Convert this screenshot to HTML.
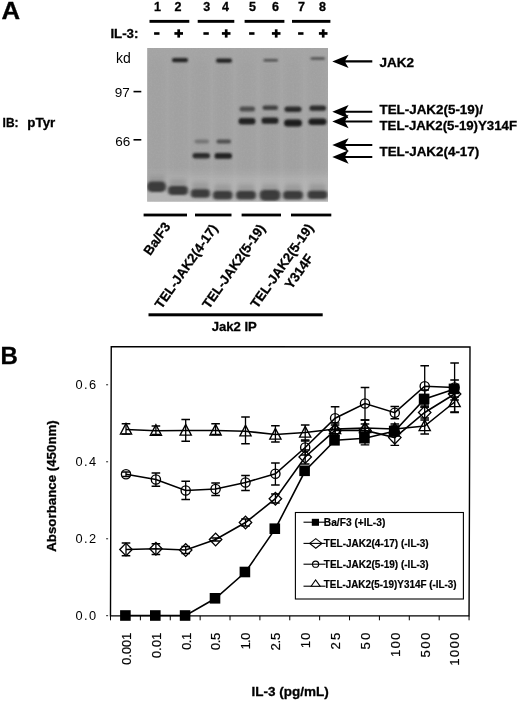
<!DOCTYPE html>
<html lang="en"><head><meta charset="utf-8"><title>Figure</title>
<style>
html,body{margin:0;padding:0;background:#fff;}
body{width:520px;height:701px;overflow:hidden;}
svg{display:block;}
text{font-family:"Liberation Sans",sans-serif;fill:#000;}
.r{stroke:#000;stroke-width:0.2px;}
.b{font-weight:bold;stroke:#000;stroke-width:0.3px;}
</style></head><body>
<svg width="520" height="701" viewBox="0 0 520 701">
<defs>
<filter id="bl" x="-20%" y="-50%" width="140%" height="200%"><feGaussianBlur stdDeviation="1.1 0.9"/></filter>
<filter id="bl2" x="-20%" y="-50%" width="140%" height="200%"><feGaussianBlur stdDeviation="1.5 1.25"/></filter>
<filter id="nz" x="0" y="0" width="100%" height="100%"><feTurbulence type="fractalNoise" baseFrequency="0.55" numOctaves="2" seed="7" result="t"/><feColorMatrix in="t" type="matrix" values="0 0 0 0 0.5  0 0 0 0 0.5  0 0 0 0 0.5  1.6 0 0 0 -0.55"/></filter>
<filter id="bl4" x="-30%" y="-60%" width="160%" height="220%"><feGaussianBlur stdDeviation="2.2 2.6"/></filter>
<filter id="bl3" x="-20%" y="-20%" width="140%" height="140%"><feGaussianBlur stdDeviation="3 6"/></filter>
</defs>
<rect width="520" height="701" fill="#fff"/>

<text class="b" x="1.6" y="18.7" font-size="24.5" textLength="18.6" lengthAdjust="spacingAndGlyphs">A</text>
<text class="b" x="157.5" y="10.8" font-size="12.5" text-anchor="middle">1</text>
<text class="b" x="178" y="10.8" font-size="12.5" text-anchor="middle">2</text>
<text class="b" x="206.8" y="10.8" font-size="12.5" text-anchor="middle">3</text>
<text class="b" x="225.5" y="10.8" font-size="12.5" text-anchor="middle">4</text>
<text class="b" x="252.5" y="10.8" font-size="12.5" text-anchor="middle">5</text>
<text class="b" x="275.5" y="10.8" font-size="12.5" text-anchor="middle">6</text>
<text class="b" x="301.5" y="10.8" font-size="12.5" text-anchor="middle">7</text>
<text class="b" x="322.5" y="10.8" font-size="12.5" text-anchor="middle">8</text>
<rect x="149.5" y="19.9" width="39.80000000000001" height="2.9" fill="#000"/>
<rect x="197.7" y="19.9" width="36.60000000000002" height="2.9" fill="#000"/>
<rect x="244.6" y="19.9" width="39.79999999999998" height="2.9" fill="#000"/>
<rect x="292" y="19.9" width="38.39999999999998" height="2.9" fill="#000"/>
<text class="b" x="110.4" y="38.3" font-size="13" textLength="28" lengthAdjust="spacingAndGlyphs">IL-3:</text>
<rect x="154.1" y="32.2" width="5.4" height="2.6" fill="#000"/>
<rect x="174.4" y="32.1" width="8.6" height="2.7" fill="#000"/><rect x="177.35" y="29.3" width="2.7" height="8.3" fill="#000"/>
<rect x="203.4" y="32.2" width="5.4" height="2.6" fill="#000"/>
<rect x="221.9" y="32.1" width="8.6" height="2.7" fill="#000"/><rect x="224.85" y="29.3" width="2.7" height="8.3" fill="#000"/>
<rect x="249.1" y="32.2" width="5.4" height="2.6" fill="#000"/>
<rect x="271.9" y="32.1" width="8.6" height="2.7" fill="#000"/><rect x="274.85" y="29.3" width="2.7" height="8.3" fill="#000"/>
<rect x="298.1" y="32.2" width="5.4" height="2.6" fill="#000"/>
<rect x="318.9" y="32.1" width="8.6" height="2.7" fill="#000"/><rect x="321.85" y="29.3" width="2.7" height="8.3" fill="#000"/>
<text x="116" y="62.8" font-size="14">kd</text>
<text x="114.8" y="97.2" font-size="13.5">97</text><rect x="133.5" y="90.8" width="7.8" height="1.6" fill="#000"/>
<text x="115.2" y="145.7" font-size="13.5">66</text><rect x="133.5" y="139" width="7.8" height="1.6" fill="#000"/>
<text class="b" x="2.6" y="127.4" font-size="13.3" textLength="16" lengthAdjust="spacingAndGlyphs">IB:</text>
<text class="b" x="27.3" y="127.4" font-size="13.3" textLength="28" lengthAdjust="spacingAndGlyphs">pTyr</text>
<g><clipPath id="gc"><rect x="147.2" y="48" width="180.8" height="153.6"/></clipPath>
<rect x="147.2" y="48" width="180.8" height="153.6" fill="#a5a5a5"/>
<g clip-path="url(#gc)">
<rect x="149.5" y="60" width="14" height="130" fill="#9c9c9c" opacity="0.5" filter="url(#bl3)"/>
<rect x="171.5" y="60" width="14" height="130" fill="#9c9c9c" opacity="0.5" filter="url(#bl3)"/>
<rect x="193.5" y="60" width="14" height="130" fill="#9c9c9c" opacity="0.5" filter="url(#bl3)"/>
<rect x="216" y="60" width="14" height="130" fill="#9c9c9c" opacity="0.5" filter="url(#bl3)"/>
<rect x="239.5" y="60" width="14" height="130" fill="#9c9c9c" opacity="0.5" filter="url(#bl3)"/>
<rect x="263" y="60" width="14" height="130" fill="#9c9c9c" opacity="0.5" filter="url(#bl3)"/>
<rect x="286" y="60" width="14" height="130" fill="#9c9c9c" opacity="0.5" filter="url(#bl3)"/>
<rect x="309.5" y="60" width="14" height="130" fill="#9c9c9c" opacity="0.5" filter="url(#bl3)"/>
<rect x="147.2" y="48" width="180.8" height="153.6" filter="url(#nz)" opacity="0.2"/>
<rect x="172.0" y="58.0" width="16.0" height="4.3" rx="2.1" fill="#222" opacity="1" filter="url(#bl)"/>
<rect x="216.0" y="58.5" width="16.0" height="4.3" rx="2.1" fill="#222" opacity="1" filter="url(#bl)"/>
<rect x="263.5" y="59.0" width="14.5" height="2.6" rx="1.3" fill="#444" opacity="0.9" filter="url(#bl)"/>
<rect x="310.5" y="57.2" width="14.5" height="2.6" rx="1.3" fill="#444" opacity="0.9" filter="url(#bl)"/>
<rect x="194.5" y="139.5" width="14.5" height="4.0" rx="2.0" fill="#666" opacity="0.75" filter="url(#bl)"/>
<rect x="192.5" y="153.0" width="17.5" height="5.5" rx="2.8" fill="#2a2a2a" opacity="1" filter="url(#bl)"/>
<rect x="216.5" y="139.5" width="14.5" height="4.0" rx="2.0" fill="#444" opacity="0.9" filter="url(#bl)"/>
<rect x="214.5" y="153.0" width="17.5" height="5.8" rx="2.9" fill="#222" opacity="1" filter="url(#bl)"/>
<rect x="239.5" y="106.5" width="15.5" height="5.0" rx="2.5" fill="#444" opacity="0.9" filter="url(#bl)"/>
<rect x="238.5" y="118.0" width="17.0" height="6.5" rx="3.2" fill="#222" opacity="1" filter="url(#bl)"/>
<rect x="262.5" y="105.5" width="15.5" height="4.5" rx="2.2" fill="#3a3a3a" opacity="0.95" filter="url(#bl)"/>
<rect x="261.5" y="117.5" width="17.0" height="6.3" rx="3.1" fill="#222" opacity="1" filter="url(#bl)"/>
<rect x="284.5" y="106.5" width="17.0" height="5.5" rx="2.8" fill="#2a2a2a" opacity="1" filter="url(#bl)"/>
<rect x="284.0" y="119.5" width="18.0" height="7.0" rx="3.5" fill="#1c1c1c" opacity="1" filter="url(#bl)"/>
<rect x="309.5" y="105.5" width="16.5" height="5.3" rx="2.6" fill="#2a2a2a" opacity="1" filter="url(#bl)"/>
<rect x="308.5" y="118.5" width="18.0" height="6.5" rx="3.2" fill="#1c1c1c" opacity="1" filter="url(#bl)"/>
<rect x="140" y="176" width="200" height="40" fill="#c4c4c4" opacity="0.55" filter="url(#bl3)"/>
<rect x="148.0" y="175.8" width="17" height="10" fill="#777" opacity="0.45" filter="url(#bl4)"/>
<rect x="146.9" y="181.6" width="19.2" height="10.4" rx="4.7" fill="#303030" opacity="0.92" filter="url(#bl2)"/>
<rect x="169.5" y="179.5" width="17" height="10" fill="#777" opacity="0.45" filter="url(#bl4)"/>
<rect x="168.0" y="185.9" width="20.0" height="9.2" rx="4.1" fill="#303030" opacity="0.92" filter="url(#bl2)"/>
<rect x="191.9" y="182.5" width="17" height="10" fill="#777" opacity="0.45" filter="url(#bl4)"/>
<rect x="190.8" y="189.3" width="19.2" height="8.4" rx="3.8" fill="#303030" opacity="0.92" filter="url(#bl2)"/>
<rect x="214.2" y="184.3" width="17" height="10" fill="#777" opacity="0.45" filter="url(#bl4)"/>
<rect x="212.9" y="191.1" width="19.6" height="8.4" rx="3.8" fill="#303030" opacity="0.92" filter="url(#bl2)"/>
<rect x="237.5" y="184.3" width="17" height="10" fill="#777" opacity="0.45" filter="url(#bl4)"/>
<rect x="236.0" y="191.1" width="20.0" height="8.4" rx="3.8" fill="#303030" opacity="0.92" filter="url(#bl2)"/>
<rect x="261.5" y="184.3" width="17" height="10" fill="#777" opacity="0.45" filter="url(#bl4)"/>
<rect x="259.6" y="189.9" width="20.8" height="10.8" rx="4.9" fill="#303030" opacity="0.92" filter="url(#bl2)"/>
<rect x="284.5" y="184.3" width="17" height="10" fill="#777" opacity="0.45" filter="url(#bl4)"/>
<rect x="283.0" y="191.1" width="20.0" height="8.4" rx="3.8" fill="#303030" opacity="0.92" filter="url(#bl2)"/>
<rect x="309.0" y="183.8" width="17" height="10" fill="#777" opacity="0.45" filter="url(#bl4)"/>
<rect x="307.5" y="190.7" width="20.0" height="8.2" rx="3.7" fill="#303030" opacity="0.92" filter="url(#bl2)"/>
</g></g>
<path d="M332.3,61.4 L348.6,54.699999999999996 L345.3,60.35 L372.3,60.35 L372.3,62.449999999999996 L345.3,62.449999999999996 L348.6,68.1 Z" fill="#000"/>
<path d="M332.3,111.8 L348.6,105.1 L345.3,110.75 L372.3,110.75 L372.3,112.85 L345.3,112.85 L348.6,118.5 Z" fill="#000"/>
<path d="M332.3,121.5 L348.6,114.8 L345.3,120.45 L372.3,120.45 L372.3,122.55 L345.3,122.55 L348.6,128.2 Z" fill="#000"/>
<path d="M332.3,145 L348.6,138.3 L345.3,143.95 L372.3,143.95 L372.3,146.05 L345.3,146.05 L348.6,151.7 Z" fill="#000"/>
<path d="M332.3,157 L348.6,150.3 L345.3,155.95 L372.3,155.95 L372.3,158.05 L345.3,158.05 L348.6,163.7 Z" fill="#000"/>
<text class="b" x="379.5" y="67" font-size="13.5">JAK2</text>
<text class="b" x="379.5" y="114.2" font-size="13.4">TEL-JAK2(5-19)/</text>
<text class="b" x="379.5" y="130" font-size="13.4" textLength="137.5" lengthAdjust="spacingAndGlyphs">TEL-JAK2(5-19)Y314F</text>
<text class="b" x="379.5" y="156.4" font-size="13.4">TEL-JAK2(4-17)</text>
<rect x="143.6" y="213.6" width="43.400000000000006" height="2.8" fill="#000"/>
<rect x="195" y="213.6" width="36.5" height="2.8" fill="#000"/>
<rect x="241.6" y="213.6" width="39.400000000000006" height="2.8" fill="#000"/>
<rect x="291" y="213.6" width="40.30000000000001" height="2.8" fill="#000"/>
<text class="b" font-size="13.3" text-anchor="end" transform="translate(171,226.5) rotate(-55)">Ba/F3</text>
<text class="b" font-size="13.3" text-anchor="end" transform="translate(218.3,228.3) rotate(-55)">TEL-JAK2(4-17)</text>
<text class="b" font-size="13.3" text-anchor="end" transform="translate(265.8,228.3) rotate(-55)">TEL-JAK2(5-19)</text>
<text class="b" font-size="13.3" text-anchor="end" transform="translate(314,227.8) rotate(-55)">TEL-JAK2(5-19)</text>
<text class="b" font-size="13.3" text-anchor="end" transform="translate(314,258) rotate(-55)">Y314F</text>
<rect x="148.5" y="313.3" width="174.2" height="3" fill="#000"/>
<text class="b" x="234.3" y="331.2" font-size="13.1" text-anchor="middle">Jak2 IP</text>
<text class="b" x="0.4" y="363.9" font-size="24">B</text>
<polygon points="111.25,346.7 470,346.95 469.05,615.9 110.5,615.9" fill="none" stroke="#000" stroke-width="1.4"/>
<rect x="106.1" y="384.2" width="2" height="1.1" fill="#333"/>
<text x="75.6" y="388.9" font-size="12.8" textLength="20.6" lengthAdjust="spacing">0.6</text>
<rect x="106.1" y="461.2" width="2" height="1.1" fill="#333"/>
<text x="75.6" y="465.9" font-size="12.8" textLength="20.6" lengthAdjust="spacing">0.4</text>
<rect x="106.1" y="538.2" width="2" height="1.1" fill="#333"/>
<text x="75.6" y="542.9" font-size="12.8" textLength="20.6" lengthAdjust="spacing">0.2</text>
<rect x="106.1" y="615.1" width="2" height="1.1" fill="#333"/>
<text x="75.6" y="619.8" font-size="12.8" textLength="20.6" lengthAdjust="spacing">0.0</text>
<rect x="110.00" y="615.9" width="1" height="4.4" fill="#000"/>
<rect x="139.88" y="615.9" width="1" height="4.4" fill="#000"/>
<rect x="169.76" y="615.9" width="1" height="4.4" fill="#000"/>
<rect x="199.64" y="615.9" width="1" height="4.4" fill="#000"/>
<rect x="229.52" y="615.9" width="1" height="4.4" fill="#000"/>
<rect x="259.40" y="615.9" width="1" height="4.4" fill="#000"/>
<rect x="289.27" y="615.9" width="1" height="4.4" fill="#000"/>
<rect x="319.15" y="615.9" width="1" height="4.4" fill="#000"/>
<rect x="349.03" y="615.9" width="1" height="4.4" fill="#000"/>
<rect x="378.91" y="615.9" width="1" height="4.4" fill="#000"/>
<rect x="408.79" y="615.9" width="1" height="4.4" fill="#000"/>
<rect x="438.67" y="615.9" width="1" height="4.4" fill="#000"/>
<rect x="468.55" y="615.9" width="1" height="4.4" fill="#000"/>
<text class="r" font-size="13.2" textLength="32.3" lengthAdjust="spacing" transform="translate(130.8,665.0) rotate(-90)">0.001</text>
<text class="r" font-size="13.2" textLength="25.6" lengthAdjust="spacing" transform="translate(160.7,658.3) rotate(-90)">0.01</text>
<text class="r" font-size="13.2" textLength="17.2" lengthAdjust="spacing" transform="translate(190.5,649.9) rotate(-90)">0.1</text>
<text class="r" font-size="13.2" textLength="17.6" lengthAdjust="spacing" transform="translate(220.4,650.3) rotate(-90)">0.5</text>
<text class="r" font-size="13.2" textLength="16.8" lengthAdjust="spacing" transform="translate(250.3,649.5) rotate(-90)">1.0</text>
<text class="r" font-size="13.2" textLength="17.8" lengthAdjust="spacing" transform="translate(280.2,650.5) rotate(-90)">2.5</text>
<text class="r" font-size="13.2" textLength="15.6" lengthAdjust="spacing" transform="translate(310.0,648.3) rotate(-90)">10</text>
<text class="r" font-size="13.2" textLength="16.8" lengthAdjust="spacing" transform="translate(339.9,649.5) rotate(-90)">25</text>
<text class="r" font-size="13.2" textLength="16.8" lengthAdjust="spacing" transform="translate(369.8,649.5) rotate(-90)">50</text>
<text class="r" font-size="13.2" textLength="24.2" lengthAdjust="spacing" transform="translate(399.6,656.9) rotate(-90)">100</text>
<text class="r" font-size="13.2" textLength="24.8" lengthAdjust="spacing" transform="translate(429.5,657.5) rotate(-90)">500</text>
<text class="r" font-size="13.2" textLength="33" lengthAdjust="spacing" transform="translate(459.4,665.7) rotate(-90)">1000</text>
<text class="b" font-size="13.3" text-anchor="middle" transform="translate(56,486) rotate(-90)">Absorbance (450nm)</text>
<text class="b" x="290.2" y="696.2" font-size="13.5" text-anchor="middle">IL-3 (pg/mL)</text>
<polyline points="126.0,615.5 155.9,615.5 185.7,615.5 215.6,598.3 245.5,572 275.4,528.7 305.2,470.8 335.1,440.3 365.0,438.2 394.8,431 424.7,398.9 454.6,388.9" fill="none" stroke="#000" stroke-width="1.6"/>
<path d="M365.0,431 V444.8 M360.7,431 H369.3 M360.7,444.8 H369.3" stroke="#000" stroke-width="1.3" fill="none"/>
<path d="M394.8,426 V436 M390.5,426 H399.1 M390.5,436 H399.1" stroke="#000" stroke-width="1.3" fill="none"/>
<path d="M424.7,390 V407 M420.4,390 H429.0 M420.4,407 H429.0" stroke="#000" stroke-width="1.3" fill="none"/>
<path d="M454.6,380 V397 M450.3,380 H458.9 M450.3,397 H458.9" stroke="#000" stroke-width="1.3" fill="none"/>
<rect x="120.1" y="610.2" width="10.6" height="10.6" fill="#000"/>
<rect x="150.0" y="610.2" width="10.6" height="10.6" fill="#000"/>
<rect x="179.8" y="610.2" width="10.6" height="10.6" fill="#000"/>
<rect x="209.7" y="593.0" width="10.6" height="10.6" fill="#000"/>
<rect x="239.6" y="566.7" width="10.6" height="10.6" fill="#000"/>
<rect x="269.5" y="523.4" width="10.6" height="10.6" fill="#000"/>
<rect x="299.3" y="465.5" width="10.6" height="10.6" fill="#000"/>
<rect x="329.2" y="435.0" width="10.6" height="10.6" fill="#000"/>
<rect x="359.1" y="432.9" width="10.6" height="10.6" fill="#000"/>
<rect x="388.9" y="425.7" width="10.6" height="10.6" fill="#000"/>
<rect x="418.8" y="393.6" width="10.6" height="10.6" fill="#000"/>
<rect x="448.7" y="383.6" width="10.6" height="10.6" fill="#000"/>
<polyline points="126.0,549.5 155.9,548.75 185.7,550 215.6,539.5 245.5,522.5 275.4,498.75 305.2,457 335.1,430.4 365.0,430.4 394.8,437.6 424.7,412.5 454.6,394" fill="none" stroke="#000" stroke-width="1.6"/>
<path d="M126.0,543 V555.75 M121.7,543 H130.3 M121.7,555.75 H130.3" stroke="#000" stroke-width="1.3" fill="none"/>
<path d="M155.9,543.75 V554.5 M151.6,543.75 H160.2 M151.6,554.5 H160.2" stroke="#000" stroke-width="1.3" fill="none"/>
<path d="M185.7,546.5 V553.5 M181.4,546.5 H190.0 M181.4,553.5 H190.0" stroke="#000" stroke-width="1.3" fill="none"/>
<path d="M215.6,538 V541 M211.3,538 H219.9 M211.3,541 H219.9" stroke="#000" stroke-width="1.3" fill="none"/>
<path d="M245.5,519 V526 M241.2,519 H249.8 M241.2,526 H249.8" stroke="#000" stroke-width="1.3" fill="none"/>
<path d="M275.4,494 V503 M271.1,494 H279.7 M271.1,503 H279.7" stroke="#000" stroke-width="1.3" fill="none"/>
<path d="M305.2,450 V464 M300.9,450 H309.5 M300.9,464 H309.5" stroke="#000" stroke-width="1.3" fill="none"/>
<path d="M335.1,425 V436 M330.8,425 H339.4 M330.8,436 H339.4" stroke="#000" stroke-width="1.3" fill="none"/>
<path d="M365.0,424 V437 M360.7,424 H369.3 M360.7,437 H369.3" stroke="#000" stroke-width="1.3" fill="none"/>
<path d="M394.8,430 V445.4 M390.5,430 H399.1 M390.5,445.4 H399.1" stroke="#000" stroke-width="1.3" fill="none"/>
<path d="M424.7,405 V420 M420.4,405 H429.0 M420.4,420 H429.0" stroke="#000" stroke-width="1.3" fill="none"/>
<path d="M454.6,388 V400 M450.3,388 H458.9 M450.3,400 H458.9" stroke="#000" stroke-width="1.3" fill="none"/>
<path d="M119.8,549.5 L126.0,543.1 L132.2,549.5 L126.0,555.9 Z" fill="none" stroke="#000" stroke-width="1.35"/>
<path d="M149.7,548.75 L155.9,542.35 L162.1,548.75 L155.9,555.15 Z" fill="none" stroke="#000" stroke-width="1.35"/>
<path d="M179.5,550 L185.7,543.6 L191.9,550 L185.7,556.4 Z" fill="none" stroke="#000" stroke-width="1.35"/>
<path d="M209.4,539.5 L215.6,533.1 L221.8,539.5 L215.6,545.9 Z" fill="none" stroke="#000" stroke-width="1.35"/>
<path d="M239.3,522.5 L245.5,516.1 L251.7,522.5 L245.5,528.9 Z" fill="none" stroke="#000" stroke-width="1.35"/>
<path d="M269.2,498.75 L275.4,492.35 L281.6,498.75 L275.4,505.15 Z" fill="none" stroke="#000" stroke-width="1.35"/>
<path d="M299.0,457 L305.2,450.6 L311.4,457 L305.2,463.4 Z" fill="none" stroke="#000" stroke-width="1.35"/>
<path d="M328.9,430.4 L335.1,424.0 L341.3,430.4 L335.1,436.79999999999995 Z" fill="none" stroke="#000" stroke-width="1.35"/>
<path d="M358.8,430.4 L365.0,424.0 L371.2,430.4 L365.0,436.79999999999995 Z" fill="none" stroke="#000" stroke-width="1.35"/>
<path d="M388.6,437.6 L394.8,431.20000000000005 L401.0,437.6 L394.8,444.0 Z" fill="none" stroke="#000" stroke-width="1.35"/>
<path d="M418.5,412.5 L424.7,406.1 L430.9,412.5 L424.7,418.9 Z" fill="none" stroke="#000" stroke-width="1.35"/>
<path d="M448.4,394 L454.6,387.6 L460.8,394 L454.6,400.4 Z" fill="none" stroke="#000" stroke-width="1.35"/>
<polyline points="126.0,474.25 155.9,479.5 185.7,490.5 215.6,489 245.5,482.5 275.4,473.75 305.2,447.5 335.1,418.25 365.0,403.5 394.8,412.7 424.7,386.25 454.6,387.5" fill="none" stroke="#000" stroke-width="1.6"/>
<path d="M126.0,472 V476.5 M121.7,472 H130.3 M121.7,476.5 H130.3" stroke="#000" stroke-width="1.3" fill="none"/>
<path d="M155.9,473 V486.25 M151.6,473 H160.2 M151.6,486.25 H160.2" stroke="#000" stroke-width="1.3" fill="none"/>
<path d="M185.7,481.25 V499.5 M181.4,481.25 H190.0 M181.4,499.5 H190.0" stroke="#000" stroke-width="1.3" fill="none"/>
<path d="M215.6,483 V495.5 M211.3,483 H219.9 M211.3,495.5 H219.9" stroke="#000" stroke-width="1.3" fill="none"/>
<path d="M245.5,475.5 V490.5 M241.2,475.5 H249.8 M241.2,490.5 H249.8" stroke="#000" stroke-width="1.3" fill="none"/>
<path d="M275.4,463 V485 M271.1,463 H279.7 M271.1,485 H279.7" stroke="#000" stroke-width="1.3" fill="none"/>
<path d="M305.2,440 V455 M300.9,440 H309.5 M300.9,455 H309.5" stroke="#000" stroke-width="1.3" fill="none"/>
<path d="M335.1,406.75 V430 M330.8,406.75 H339.4 M330.8,430 H339.4" stroke="#000" stroke-width="1.3" fill="none"/>
<path d="M365.0,387.5 V420 M360.7,387.5 H369.3 M360.7,420 H369.3" stroke="#000" stroke-width="1.3" fill="none"/>
<path d="M394.8,406.5 V418.75 M390.5,406.5 H399.1 M390.5,418.75 H399.1" stroke="#000" stroke-width="1.3" fill="none"/>
<path d="M424.7,365.75 V407 M420.4,365.75 H429.0 M420.4,407 H429.0" stroke="#000" stroke-width="1.3" fill="none"/>
<path d="M454.6,363 V412.5 M450.3,363 H458.9 M450.3,412.5 H458.9" stroke="#000" stroke-width="1.3" fill="none"/>
<circle cx="126.0" cy="474.25" r="4.6" fill="none" stroke="#000" stroke-width="1.35"/>
<circle cx="155.9" cy="479.5" r="4.6" fill="none" stroke="#000" stroke-width="1.35"/>
<circle cx="185.7" cy="490.5" r="4.6" fill="none" stroke="#000" stroke-width="1.35"/>
<circle cx="215.6" cy="489" r="4.6" fill="none" stroke="#000" stroke-width="1.35"/>
<circle cx="245.5" cy="482.5" r="4.6" fill="none" stroke="#000" stroke-width="1.35"/>
<circle cx="275.4" cy="473.75" r="4.6" fill="none" stroke="#000" stroke-width="1.35"/>
<circle cx="305.2" cy="447.5" r="4.6" fill="none" stroke="#000" stroke-width="1.35"/>
<circle cx="335.1" cy="418.25" r="4.6" fill="none" stroke="#000" stroke-width="1.35"/>
<circle cx="365.0" cy="403.5" r="4.6" fill="none" stroke="#000" stroke-width="1.35"/>
<circle cx="394.8" cy="412.7" r="4.6" fill="none" stroke="#000" stroke-width="1.35"/>
<circle cx="424.7" cy="386.25" r="4.6" fill="none" stroke="#000" stroke-width="1.35"/>
<circle cx="454.6" cy="387.5" r="4.6" fill="none" stroke="#000" stroke-width="1.35"/>
<polyline points="126.0,429.5 155.9,430.75 185.7,430.5 215.6,430.5 245.5,431.25 275.4,434.5 305.2,432.5 335.1,429 365.0,428 394.8,429 424.7,426 454.6,402" fill="none" stroke="#000" stroke-width="1.6"/>
<path d="M126.0,423.75 V434 M121.7,423.75 H130.3 M121.7,434 H130.3" stroke="#000" stroke-width="1.3" fill="none"/>
<path d="M155.9,426 V434.5 M151.6,426 H160.2 M151.6,434.5 H160.2" stroke="#000" stroke-width="1.3" fill="none"/>
<path d="M185.7,419.5 V441.25 M181.4,419.5 H190.0 M181.4,441.25 H190.0" stroke="#000" stroke-width="1.3" fill="none"/>
<path d="M215.6,423.75 V434.5 M211.3,423.75 H219.9 M211.3,434.5 H219.9" stroke="#000" stroke-width="1.3" fill="none"/>
<path d="M245.5,417 V443.75 M241.2,417 H249.8 M241.2,443.75 H249.8" stroke="#000" stroke-width="1.3" fill="none"/>
<path d="M275.4,425.75 V442 M271.1,425.75 H279.7 M271.1,442 H279.7" stroke="#000" stroke-width="1.3" fill="none"/>
<path d="M305.2,425 V441 M300.9,425 H309.5 M300.9,441 H309.5" stroke="#000" stroke-width="1.3" fill="none"/>
<path d="M335.1,423 V435 M330.8,423 H339.4 M330.8,435 H339.4" stroke="#000" stroke-width="1.3" fill="none"/>
<path d="M365.0,420 V436 M360.7,420 H369.3 M360.7,436 H369.3" stroke="#000" stroke-width="1.3" fill="none"/>
<path d="M394.8,424 V434 M390.5,424 H399.1 M390.5,434 H399.1" stroke="#000" stroke-width="1.3" fill="none"/>
<path d="M424.7,418 V434 M420.4,418 H429.0 M420.4,434 H429.0" stroke="#000" stroke-width="1.3" fill="none"/>
<path d="M454.6,392 V412 M450.3,392 H458.9 M450.3,412 H458.9" stroke="#000" stroke-width="1.3" fill="none"/>
<path d="M120.4,434.1 L126.0,423.5 L131.6,434.1 Z" fill="none" stroke="#000" stroke-width="1.35"/>
<path d="M150.3,435.35 L155.9,424.75 L161.5,435.35 Z" fill="none" stroke="#000" stroke-width="1.35"/>
<path d="M180.1,435.1 L185.7,424.5 L191.3,435.1 Z" fill="none" stroke="#000" stroke-width="1.35"/>
<path d="M210.0,435.1 L215.6,424.5 L221.2,435.1 Z" fill="none" stroke="#000" stroke-width="1.35"/>
<path d="M239.9,435.85 L245.5,425.25 L251.1,435.85 Z" fill="none" stroke="#000" stroke-width="1.35"/>
<path d="M269.8,439.1 L275.4,428.5 L281.0,439.1 Z" fill="none" stroke="#000" stroke-width="1.35"/>
<path d="M299.6,437.1 L305.2,426.5 L310.8,437.1 Z" fill="none" stroke="#000" stroke-width="1.35"/>
<path d="M329.5,433.6 L335.1,423 L340.7,433.6 Z" fill="none" stroke="#000" stroke-width="1.35"/>
<path d="M359.4,432.6 L365.0,422 L370.6,432.6 Z" fill="none" stroke="#000" stroke-width="1.35"/>
<path d="M389.2,433.6 L394.8,423 L400.4,433.6 Z" fill="none" stroke="#000" stroke-width="1.35"/>
<path d="M419.1,430.6 L424.7,420 L430.3,430.6 Z" fill="none" stroke="#000" stroke-width="1.35"/>
<path d="M449.0,406.6 L454.6,396 L460.2,406.6 Z" fill="none" stroke="#000" stroke-width="1.35"/>
<rect x="295.4" y="512.5" width="168" height="86.5" fill="#fff" stroke="#000" stroke-width="1.1"/>
<rect x="303.5" y="521.6500000000001" width="22" height="1.1" fill="#000"/>
<rect x="311.8" y="518.8000000000001" width="7.2" height="7" fill="#000"/>
<text class="b" x="323.8" y="525.8000000000001" font-size="10.1" textLength="61.5" lengthAdjust="spacingAndGlyphs" style="stroke-width:0.2px">Ba/F3 (+IL-3)</text>
<rect x="303.5" y="542.85" width="22" height="1.1" fill="#000"/>
<path d="M309.7,543.4 L315.8,538.6 L321.90000000000003,543.4 L315.8,548.1999999999999 Z" fill="#fff" stroke="#000" stroke-width="1.1"/><rect x="309.7" y="542.85" width="12" height="1.1" fill="#000"/>
<text class="b" x="323.8" y="547.0" font-size="10.1" textLength="104.9" lengthAdjust="spacingAndGlyphs" style="stroke-width:0.2px">TEL-JAK2(4-17) (-IL-3)</text>
<rect x="303.5" y="563.6500000000001" width="22" height="1.1" fill="#000"/>
<circle cx="315.6" cy="564.2" r="3.1" fill="#fff" stroke="#000" stroke-width="1.1"/><rect x="312.2" y="563.6500000000001" width="6.8" height="1.1" fill="#000"/>
<text class="b" x="323.8" y="567.8000000000001" font-size="10.1" textLength="104.9" lengthAdjust="spacingAndGlyphs" style="stroke-width:0.2px">TEL-JAK2(5-19) (-IL-3)</text>
<rect x="303.5" y="585.6500000000001" width="22" height="1.1" fill="#000"/>
<path d="M311.1,586.2 L315.6,580.0 L320.1,586.2 Z" fill="#fff" stroke="#000" stroke-width="1.1"/>
<text class="b" x="323.8" y="588.2" font-size="10.1" textLength="132.8" lengthAdjust="spacingAndGlyphs" style="stroke-width:0.2px">TEL-JAK2(5-19)Y314F (-IL-3)</text>
</svg></body></html>
